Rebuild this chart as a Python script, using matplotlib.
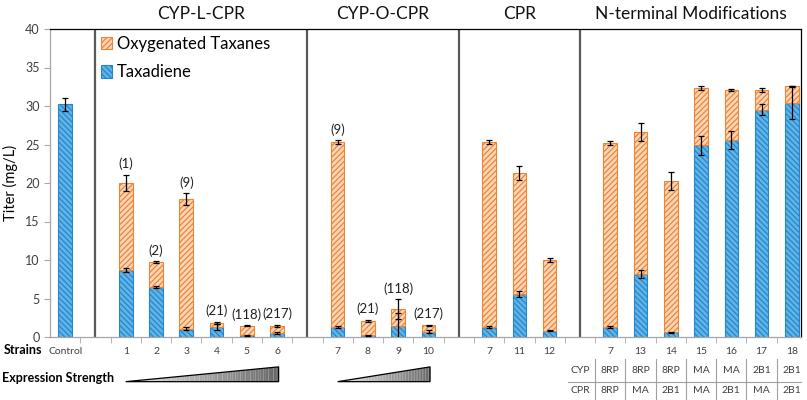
import matplotlib.pyplot as plt
import numpy as np
from matplotlib.patches import Polygon
from matplotlib.collections import PolyCollection
from matplotlib.transforms import blended_transform_factory
from matplotlib.colors import LinearSegmentedColormap

plt.rcParams['font.family'] = ['Lato', 'DejaVu Sans']
plt.rcParams['hatch.linewidth'] = 0.9

# data
strains = ['Control', '1', '2', '3', '4', '5', '6',
           '7', '8', '9', '10',
           '7', '11', '12',
           '7', '13', '14', '15', '16', '17', '18']
group_sizes = [1, 6, 4, 3, 7]
group_titles = ['CYP-L-CPR', 'CYP-O-CPR', 'CPR', 'N-terminal Modifications']

taxadiene = [30.2, 8.7, 6.5, 1.1, 1.3, 0.2, 0.55,
             1.3, 0.2, 1.4, 0.7,
             1.3, 5.6, 0.8,
             1.3, 8.2, 0.6, 24.9, 25.6, 29.5, 30.4]
taxadiene_err = [0.8, 0.2, 0.1, 0.2, 0.45, 0.05, 0.1,
                 0.1, 0.05, 1.7, 0.15,
                 0.1, 0.35, 0.05,
                 0.1, 0.5, 0.1, 1.2, 1.2, 0.7, 2.1]
oxygenated = [0.0, 11.3, 3.25, 16.8, 0.5, 1.25, 0.85,
              24.0, 1.9, 2.2, 0.8,
              24.0, 15.7, 9.2,
              23.9, 18.4, 19.7, 7.4, 6.5, 2.6, 2.2]
total_err = [0.0, 1.05, 0.1, 0.75, 0.15, 0.05, 0.15,
             0.25, 0.1, 1.3, 0.1,
             0.25, 0.9, 0.2,
             0.25, 1.2, 1.15, 0.25, 0.15, 0.25, 0.05]
copy_number = ['', '(1)', '(2)', '(9)', '(21)', '(118)', '(217)',
               '(9)', '(21)', '(118)', '(217)',
               '', '', '',
               '', '', '', '', '', '', '']
cyp_row = ['8RP', '8RP', '8RP', 'MA', 'MA', '2B1', '2B1']
cpr_row = ['8RP', 'MA', '2B1', 'MA', '2B1', 'MA', '2B1']

blue_face, blue_edge = '#62b3e6', '#2287cc'
orange_face, orange_edge = '#fdd6b8', '#ee8535'
grey_txt = '#404040'

# slot positions: one empty slot between groups
pos, separators, starts = [], [], []
k = 0
for gi, n in enumerate(group_sizes):
    starts.append(k)
    pos.extend(range(k, k + n))
    k += n
    if gi < len(group_sizes) - 1:
        separators.append(k)
        k += 1
pos = np.array(pos, dtype=float)
tax = np.array(taxadiene)
oxy = np.array(oxygenated)
total = tax + oxy
xmax = 24.3

fig = plt.figure(figsize=(8.07, 4.0), dpi=100)
ax = fig.add_axes([50 / 807, 63 / 400, 751 / 807, 308 / 400])

w = 0.45
b_tax = ax.bar(pos, tax, width=w, color=blue_face, edgecolor=blue_edge,
               hatch='\\\\\\\\\\\\', lw=0.8, label='Taxadiene', zorder=2)
has_oxy = oxy > 0
b_oxy = ax.bar(pos[has_oxy], oxy[has_oxy], bottom=tax[has_oxy], width=w,
               color=orange_face, edgecolor=orange_edge, hatch='//////',
               lw=0.8, label='Oxygenated Taxanes', zorder=2)

ax.errorbar(pos, tax, yerr=taxadiene_err, fmt='none', ecolor='black',
            elinewidth=0.9, capsize=2.5, capthick=0.9, zorder=3)
ax.errorbar(pos[has_oxy], total[has_oxy], yerr=np.array(total_err)[has_oxy],
            fmt='none', ecolor='black', elinewidth=0.9, capsize=2.5,
            capthick=0.9, zorder=3)

for x, t, lab, e2 in zip(pos, total, copy_number, total_err):
    if lab:
        ax.text(x, t + e2 + 0.6, lab, ha='center', va='bottom', fontsize=9.5,
                color='#202020')

for s in separators:
    ax.axvline(s, color='#595959', lw=1.6, zorder=1)

ax.set_xlim(-0.5, xmax)
ax.set_ylim(0, 40)
ax.set_yticks(np.arange(0, 41, 5))
ax.set_ylabel('Titer (mg/L)', fontsize=10.5, labelpad=5)
ax.set_xticks(pos)
ax.set_xticklabels(strains, fontsize=7.5, color=grey_txt)
ax.set_xticks(np.arange(0.5, 24, 1), minor=True)
ax.tick_params(axis='x', which='major', length=0, pad=7)
ax.tick_params(axis='x', which='minor', length=4, color='#a6a6a6')
ax.tick_params(axis='y', labelsize=9, length=4, color='#a6a6a6',
               labelcolor=grey_txt)
for side in ['top', 'right']:
    ax.spines[side].set_color('black')
    ax.spines[side].set_linewidth(0.9)
for side in ['left', 'bottom']:
    ax.spines[side].set_color('#a6a6a6')
    ax.spines[side].set_linewidth(0.9)

ax.legend([b_oxy, b_tax], ['Oxygenated Taxanes', 'Taxadiene'],
          loc='upper left', bbox_to_anchor=(0.057, 1.005), frameon=False,
          fontsize=12, borderpad=0, handlelength=0.65, handleheight=0.75,
          handletextpad=0.3, labelspacing=0.75)

trans = blended_transform_factory(ax.transData, ax.transAxes)

# group titles above the plot
edges = separators + [xmax]
for i, title in enumerate(group_titles):
    ax.text((edges[i] + edges[i + 1]) / 2, 1.049, title, transform=trans,
            ha='center', va='center', fontsize=12.5, color='#111111')

fig.text(4 / 807, 0.125, 'Strains', fontsize=9, weight='bold', va='center')
fig.text(2 / 807, 0.055, 'Expression Strength', fontsize=9, weight='bold',
         va='center')

# expression strength wedges with grey gradient
cmap = LinearSegmentedColormap.from_list('g', ['#e6e6e6', '#666666'])
yb, yt = -0.145, -0.097
for gi in (1, 2):
    x0 = starts[gi]
    x1 = starts[gi] + group_sizes[gi] - 1 + 0.05
    n = 60
    xs = np.linspace(x0, x1, n + 1)
    ys = yb + (yt - yb) * (xs - x0) / (x1 - x0)
    quads = [[(xs[j], yb), (xs[j + 1], yb), (xs[j + 1], ys[j + 1]), (xs[j], ys[j])]
             for j in range(n)]
    pc = PolyCollection(quads, transform=trans, clip_on=False,
                        facecolors=[cmap(j / n) for j in range(n)],
                        edgecolors='none')
    ax.add_collection(pc, autolim=False)
    ax.add_patch(Polygon([(x0, yb), (x1, yb), (x1, yt)], closed=True,
                         transform=trans, clip_on=False, fc='none',
                         ec='black', lw=0.9))

# CYP / CPR table under the N-terminal group
nt = starts[4]
line_c = '#a0a0a0'
for j in range(group_sizes[4]):
    xb = nt + j - 0.5
    ax.plot([xb, xb], [-0.071, -0.21], transform=trans, clip_on=False,
            color=line_c, lw=0.8)
ax.plot([nt - 1.4, xmax], [-0.145, -0.145], transform=trans, clip_on=False,
        color=line_c, lw=0.8)
ax.text(nt - 1, -0.110, 'CYP', transform=trans, ha='center', va='center',
        fontsize=7.5, color=grey_txt)
ax.text(nt - 1, -0.175, 'CPR', transform=trans, ha='center', va='center',
        fontsize=7.5, color=grey_txt)
for j, (c1, c2) in enumerate(zip(cyp_row, cpr_row)):
    ax.text(nt + j, -0.110, c1, transform=trans, ha='center', va='center',
            fontsize=7.5, color=grey_txt)
    ax.text(nt + j, -0.175, c2, transform=trans, ha='center', va='center',
            fontsize=7.5, color=grey_txt)

fig.savefig('out.png', dpi=100)
